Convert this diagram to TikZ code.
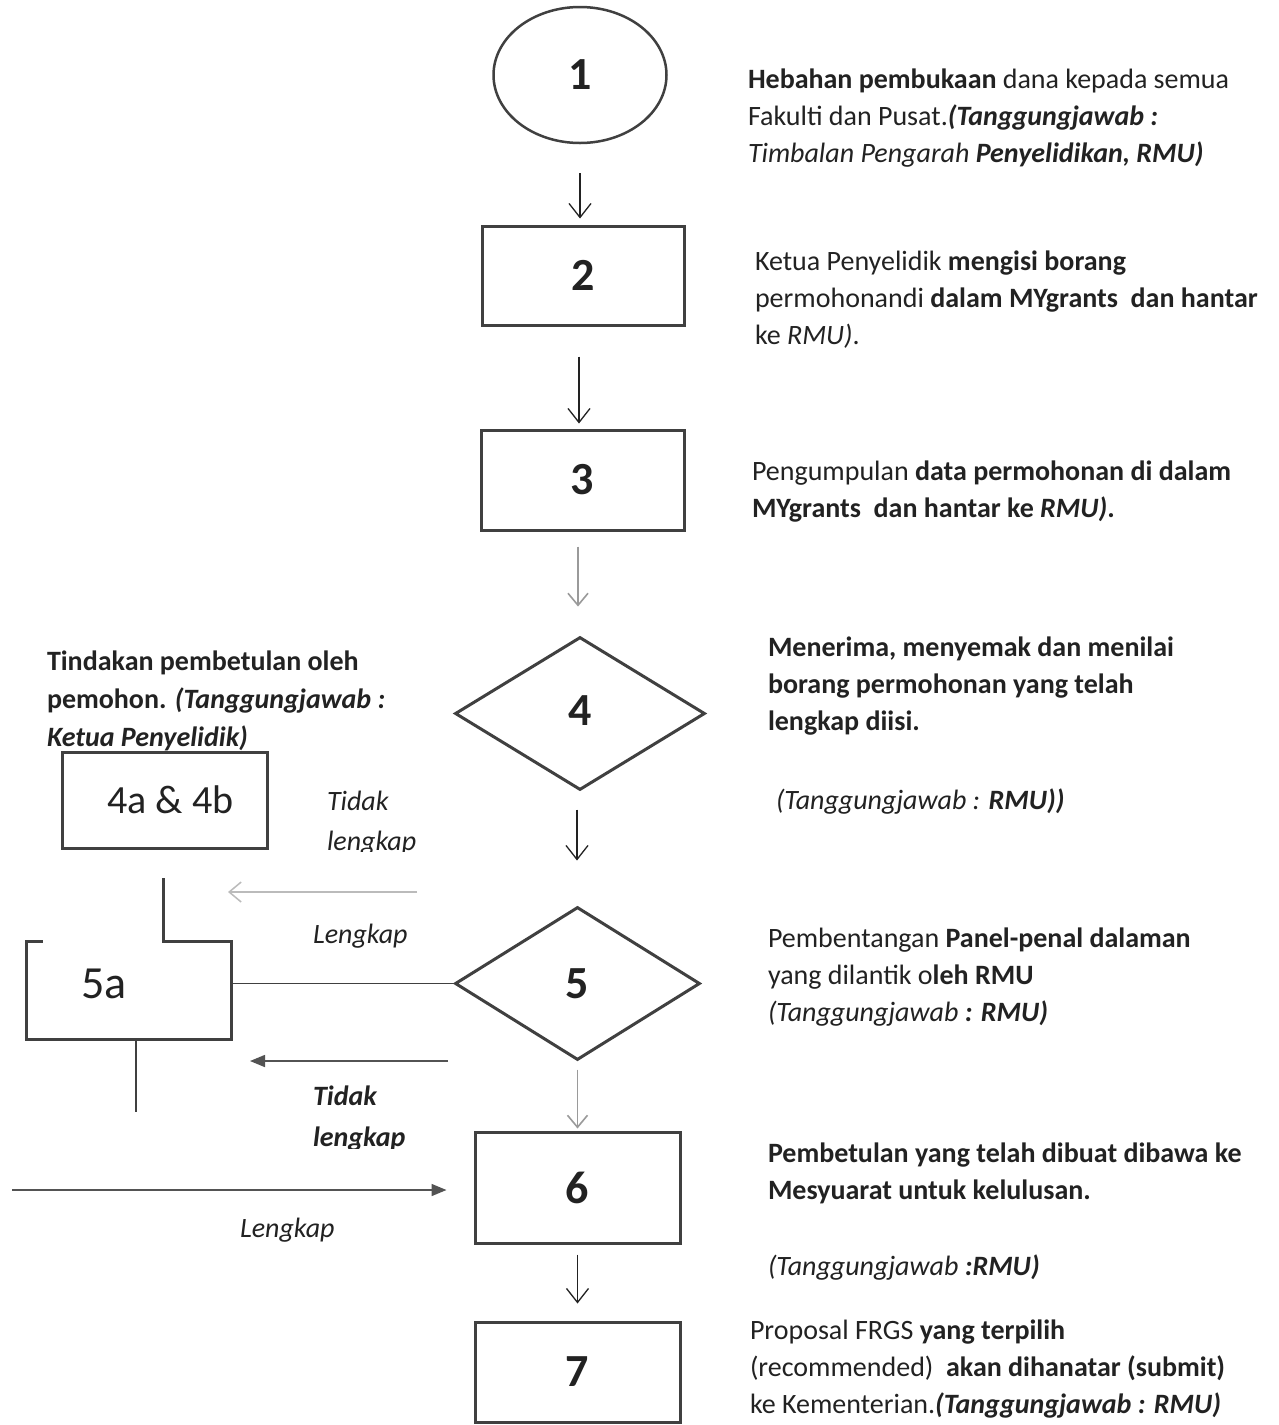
\documentclass[tikz,border=0pt]{standalone}
\usepackage{fontspec}
\setmainfont{Carlito}
\usetikzlibrary{arrows.meta,shapes.geometric,calc}
\definecolor{ink}{HTML}{222222}
\definecolor{edge}{HTML}{404040}
\definecolor{faint}{HTML}{9A9A9A}
\definecolor{pale}{HTML}{BBBBBB}
\begin{document}
\begin{tikzpicture}[x=1pt,y=-1pt,
  txt/.style={font=\fontsize{28}{37}\selectfont, text=ink, inner sep=0pt, outer sep=0pt, align=left, anchor=north west},
  num/.style={font=\fontsize{46}{50}\selectfont\bfseries, text=ink},
  oval/.style={ellipse, draw=edge, line width=2.5pt, inner sep=0pt, num},
  rbox/.style={rectangle, draw=edge, line width=3pt, inner sep=0pt, num},
  dia/.style={diamond, draw=edge, line width=3pt, inner sep=0pt, num},
  varrow/.style={draw=ink, line width=1.3pt, -{Straight Barb[length=14pt,width=22pt,line width=1.3pt]}},
  faintarrow/.style={draw=faint, line width=1.6pt, -{Straight Barb[length=12pt,width=20pt,line width=1.6pt]}},
  palearrow/.style={draw=pale, line width=1.5pt, -{Straight Barb[length=12pt,width=20pt,line width=1.5pt]}},
  farrow/.style={draw=edge!90, line width=1.6pt, -{Triangle[length=15pt,width=12pt]}},
  frame/.style={draw=edge, line width=3pt},
  thinline/.style={draw=edge, line width=1.6pt},
]
\useasboundingbox (0,0) rectangle (1279,1425);
\fill[white] (0,0) rectangle (1279,1425);

% main column
\node[oval, minimum width=173pt, minimum height=136pt] (n1) at (580,75) {1};
\node[rbox, minimum width=202pt, minimum height=99pt] (n2) at (583,275.5) {2};
\node[rbox, minimum width=203pt, minimum height=100pt] (n3) at (582.5,480) {3};
\node[dia, minimum width=250pt, minimum height=153pt] (n4) at (580,713.5) {\raisebox{6pt}{4}};
\node[dia, minimum width=245pt, minimum height=153pt] (n5) at (577.5,983.5) {\raisebox{-6pt}{5}};
\node[rbox, minimum width=205pt, minimum height=111pt] (n6) at (577.5,1187.5) {6};
\node[rbox, minimum width=205pt, minimum height=100pt] (n7) at (577.5,1372) {7};

\draw[varrow, shorten <=29pt, shorten >=6pt] (n1.south) -- (n1.south |- n2.north);
\draw[varrow, shorten <=30pt, shorten >=5pt] ([xshift=-4pt]n2.south) -- ([xshift=-4pt]n2.south |- n3.north);
\draw[faintarrow, shorten <=15pt, shorten >=29pt] ([xshift=-2pt]n4.north |- n3.south) -- ([xshift=-2pt]n4.north);
\draw[varrow, shorten <=18pt, shorten >=45pt] ([xshift=-3pt]n4.south) -- ([xshift=-3pt]n4.south |- n5.north);
\draw[faintarrow, shorten <=8pt, shorten >=2pt] (n5.south) -- (n6.north);
\draw[varrow, shorten <=10pt, shorten >=17pt] (n6.south) -- (n7.north);

% left side
\node[rbox, font=\fontsize{40}{44}\selectfont\mdseries, minimum width=205pt, minimum height=96pt] (n4ab) at (164.5,800) {\hspace*{12pt}4a \& 4b};
\node[inner sep=0pt, minimum width=204pt, minimum height=97pt] (n5a) at (129,990.5) {};
\node[num, font=\fontsize{46}{50}\selectfont\mdseries] (t5a) at (104,984) {5a};
\coordinate (c5up) at (163,878);
\coordinate (c5dn) at (136,1112);
\draw[frame] ([xshift=16pt]n5a.north west) -- (n5a.north west) -- (n5a.south west) -- (n5a.south east) -- (n5a.north east) -- (c5up |- n5a.north) -- (c5up);
\draw[thinline] (c5dn |- n5a.south) -- (c5dn);
\draw[thinline] (n5.west) -- (n5.west -| n5a.east);

\coordinate (g1) at (417,892);
\coordinate (g2) at (228,892);
\draw[palearrow] (g1) -- (g2);
\coordinate (d1) at (448,1061);
\coordinate (d2) at (250,1061);
\draw[farrow] (d1) -- (d2);
\coordinate (cin) at (12,1190);
\draw[farrow, shorten >=27pt] (cin) -- (cin -| n6.west);

% left texts
\node[txt, font=\fontsize{28}{38}\selectfont] (tl) at (47,643.4) {\strut\textbf{Tindakan pembetulan oleh}\\\textbf{pemohon. \textit{(Tanggungjawab :}}\\\textbf{\textit{Ketua Penyelidik)}}};
\begin{scope}
\clip (300,770) rectangle (460,851);
\node[txt, font=\fontsize{28}{40}\selectfont] (tt1) at (327,782) {\strut\textit{Tidak}\\\textit{lengkap}};
\end{scope}
\node[txt] (tlk1) at (313,918) {\strut\textit{Lengkap}};
\begin{scope}
\clip (300,1060) rectangle (460,1148);
\node[txt, font=\fontsize{28}{41}\selectfont] (tt2) at (313,1076.3) {\strut\textbf{\textit{Tidak}}\\\textbf{\textit{lengkap}}};
\end{scope}
\node[txt] (tlk2) at (240,1212) {\strut\textit{Lengkap}};

% right texts
\node[txt] (r1) at (748,63) {\strut\textbf{Hebahan pembukaan} dana kepada semua\\Fakulti dan Pusat.\textbf{\textit{(Tanggungjawab :}}\\\textit{Timbalan Pengarah \textbf{Penyelidikan, RMU)}}};
\node[txt] (r2) at (755,245) {\strut Ketua Penyelidik \textbf{mengisi borang}\\permohonandi \textbf{dalam MYgrants~ dan hantar}\\ke \textit{RMU)}.};
\node[txt] (r3) at (752,455) {\strut Pengumpulan \textbf{data permohonan di dalam}\\\textbf{MYgrants~ dan hantar ke \textit{RMU)}.}};
\node[txt] (r4) at (768,631) {\strut\textbf{Menerima, menyemak dan menilai}\\\textbf{borang permohonan yang telah}\\\textbf{lengkap diisi.}};
\node[txt] (r4b) at (776,784) {\strut\textit{(Tanggungjawab : \textbf{RMU))}}};
\node[txt] (r5) at (768,922) {\strut Pembentangan \textbf{Panel-penal dalaman}\\yang dilantik o\textbf{leh RMU}\\\textit{(Tanggungjawab \textbf{: RMU)}}};
\node[txt] (r6) at (768,1137) {\strut\textbf{Pembetulan yang telah dibuat dibawa ke}\\\textbf{Mesyuarat untuk kelulusan.}};
\node[txt] (r6b) at (768,1250) {\strut\textit{(Tanggungjawab \textbf{:RMU)}}};
\node[txt] (r7) at (750,1314) {\strut Proposal FRGS \textbf{yang terpilih}\\(recommended)~ \textbf{akan dihanatar (submit)}\\ke Kementerian.\textbf{\textit{(Tanggungjawab : RMU)}}};
\end{tikzpicture}
\end{document}
